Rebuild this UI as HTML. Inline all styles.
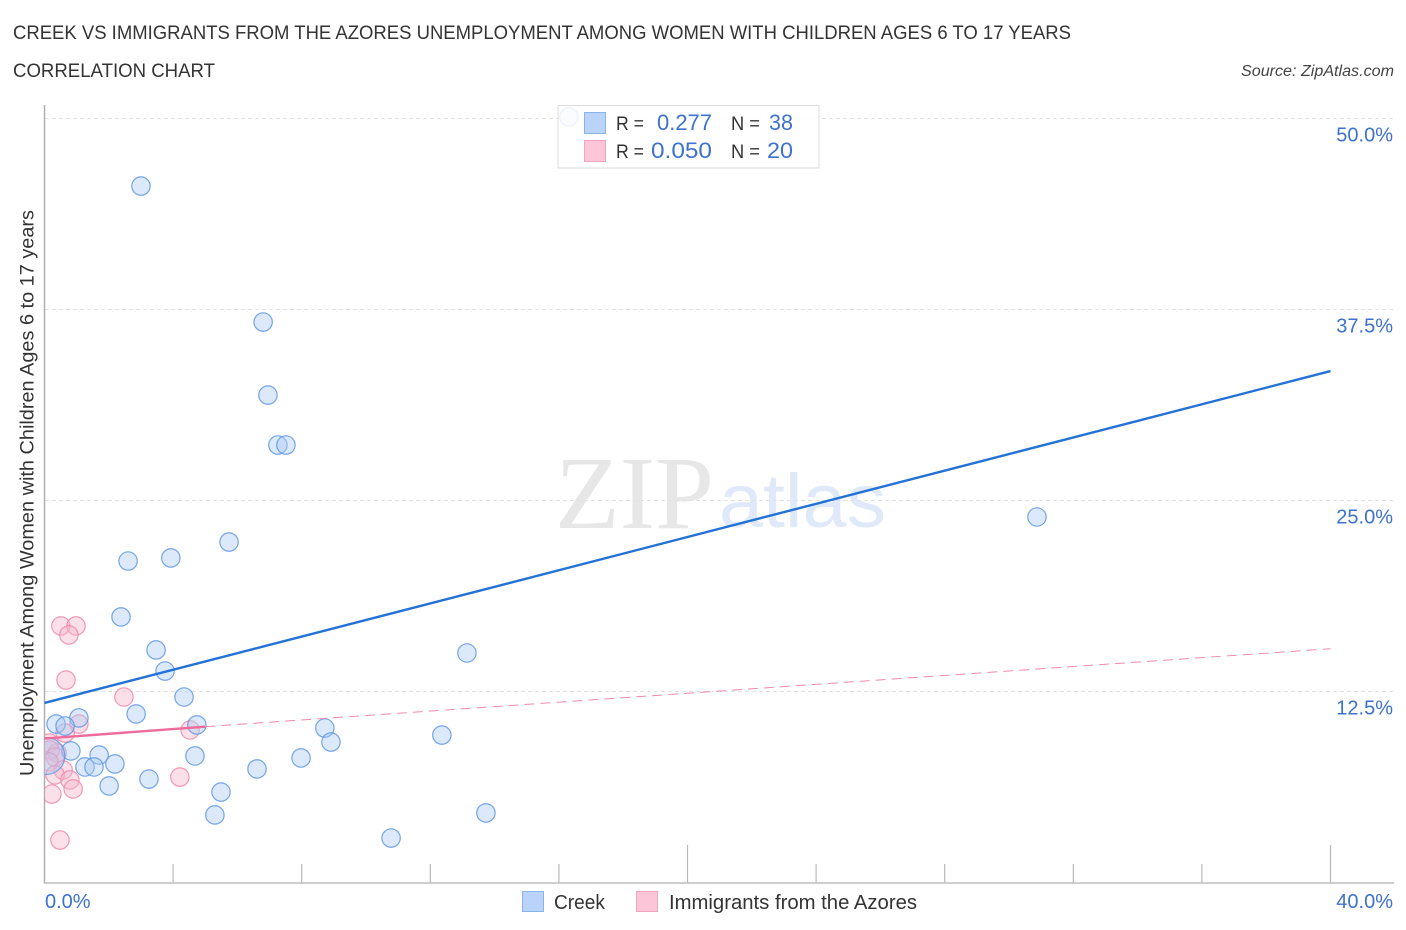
<!DOCTYPE html>
<html lang="en">
<head>
<meta charset="utf-8">
<title>Creek vs Immigrants from the Azores Correlation Chart</title>
<style>
html,body{margin:0;padding:0;background:#fff;}
svg{display:block;font-family:"Liberation Sans",sans-serif;}
</style>
</head>
<body>
<svg id="chart" width="1406" height="930" viewBox="0 0 1406 930" xmlns="http://www.w3.org/2000/svg">
  <defs><clipPath id="plot-clip"><rect x="44.5" y="100" width="1350" height="783"/></clipPath></defs>
  <text x="13" y="39" font-size="19" fill="#333" textLength="1058" lengthAdjust="spacingAndGlyphs">CREEK VS IMMIGRANTS FROM THE AZORES UNEMPLOYMENT AMONG WOMEN WITH CHILDREN AGES 6 TO 17 YEARS</text>
  <text x="13" y="77" font-size="19" fill="#333" textLength="202" lengthAdjust="spacingAndGlyphs">CORRELATION CHART</text>
  <text x="1241" y="76" font-size="15.5" font-style="italic" fill="#444" textLength="153" lengthAdjust="spacingAndGlyphs">Source: ZipAtlas.com</text>

  <g>
    <text x="555" y="528" font-family="'Liberation Serif',serif" font-size="104" fill="#e7e7e7" textLength="159" lengthAdjust="spacingAndGlyphs">ZIP</text>
    <text x="719" y="527" font-family="'Liberation Sans',sans-serif" font-size="76" fill="#dfe9f9" textLength="167" lengthAdjust="spacingAndGlyphs">atlas</text>
  </g>

  <g id="grid"></g>
  <g id="axes"></g>
  <g id="points" clip-path="url(#plot-clip)"></g>
  <g id="trends"></g>

  <text transform="translate(33.5,776) rotate(-90)" font-size="19" fill="#333" textLength="566" lengthAdjust="spacingAndGlyphs">Unemployment Among Women with Children Ages 6 to 17 years</text>

  <g font-size="21">
    <rect x="558" y="105.500" width="261" height="62.500" fill="#fff" fill-opacity="0.86" stroke="#dcdcdc" stroke-width="1"/>
    <rect x="584.500" y="112.500" width="21" height="21" fill="#b9d4f8" stroke="#8db4ea"/>
    <rect x="584.500" y="140.500" width="21" height="21" fill="#fcc6d8" stroke="#f2a3bd"/>
    <text x="616" y="130" fill="#333" font-size="19.500" textLength="28" lengthAdjust="spacingAndGlyphs">R =</text>
    <text x="657" y="130" fill="#3d72cf" font-size="22" textLength="55" lengthAdjust="spacingAndGlyphs">0.277</text>
    <text x="731" y="130" fill="#333" font-size="19.500" textLength="29" lengthAdjust="spacingAndGlyphs">N =</text>
    <text x="769" y="130" fill="#3d72cf" font-size="22" textLength="24" lengthAdjust="spacingAndGlyphs">38</text>
    <text x="616" y="158" fill="#333" font-size="19.500" textLength="28" lengthAdjust="spacingAndGlyphs">R =</text>
    <text x="651" y="158" fill="#3d72cf" font-size="22" textLength="61" lengthAdjust="spacingAndGlyphs">0.050</text>
    <text x="731" y="158" fill="#333" font-size="19.500" textLength="29" lengthAdjust="spacingAndGlyphs">N =</text>
    <text x="767" y="158" fill="#3d72cf" font-size="22" textLength="26" lengthAdjust="spacingAndGlyphs">20</text>
  </g>

  <g>
    <g>
      <rect x="522.500" y="891.500" width="21" height="20" fill="#b9d4f8" stroke="#8db4ea"/>
      <text x="554" y="909" font-size="20" fill="#333" textLength="51" lengthAdjust="spacingAndGlyphs">Creek</text>
    </g>
    <g>
      <rect x="636.500" y="891.500" width="21" height="20" fill="#fcc6d8" stroke="#f2a3bd"/>
      <text x="669" y="909" font-size="20" fill="#333" textLength="248" lengthAdjust="spacingAndGlyphs">Immigrants from the Azores</text>
    </g>
  </g>
</svg>
<script>
const creekX = [3.00,6.80,6.95,7.26,7.51,30.87,5.74,2.60,3.93,2.38,3.47,13.14,3.75,4.34,2.85,1.07,0.36,0.64,4.74,8.72,8.91,12.36,0.82,1.70,4.68,7.98,2.19,1.26,1.54,6.61,3.25,2.01,5.49,5.30,13.73,10.78,16.31,0.06];
const creekY = [45.58,36.68,31.90,28.63,28.63,23.92,22.28,21.04,21.24,17.38,15.22,15.02,13.84,12.14,11.03,10.77,10.37,10.24,10.31,10.11,9.19,9.65,8.61,8.34,8.28,8.15,7.76,7.56,7.56,7.43,6.77,6.32,5.92,4.42,4.55,2.91,50.10,8.28];
const creekWeight = [1,1,1,1,1,1,1,1,1,1,1,1,1,1,1,1,1,1,1,1,1,1,1,1,1,1,1,1,1,1,1,1,1,1,1,1,1,2];
const azoresX = [0.51,0.98,0.76,0.67,2.47,1.07,0.64,4.53,0.14,0.39,0.17,0.33,0.14,0.58,0.33,0.79,4.21,0.89,0.23,0.48];
const azoresY = [16.79,16.79,16.20,13.25,12.14,10.37,9.78,9.98,9.13,8.48,8.67,8.21,7.89,7.36,7.04,6.71,6.90,6.12,5.79,2.78];
const creekTrendX = [0,40];
const creekTrendY = [11.75,33.47];
const azoresTrendSolidX = [0,5];
const azoresTrendSolidY = [9.42,10.20];
const azoresTrendDashX = [5,40];
const azoresTrendDashY = [10.20,15.30];
const yTicks = [12.5,25,37.5,50];
const yTickLabels = ['12.5%','25.0%','37.5%','50.0%'];
const xTicks = [4,8,12,16,20,24,28,32,36,40];
const xMajorTicks = [20,40];
const xEndValues = [0,40];
const xEndLabels = ['0.0%','40.0%'];

const NS = 'http://www.w3.org/2000/svg';
const xScale = v => 44.5 + v * 32.15;
const yScale = v => 882.5 - v * 15.28;
function make(tag, attrs, parent) {
  const el = document.createElementNS(NS, tag);
  for (const k in attrs) el.setAttribute(k, attrs[k]);
  parent.appendChild(el);
  return el;
}
const grid = document.getElementById('grid');
const axes = document.getElementById('axes');
const points = document.getElementById('points');
const trends = document.getElementById('trends');

yTicks.forEach((t, i) => {
  const line = make('line', {x1: 45, x2: 1393, y1: yScale(t), y2: yScale(t), stroke: '#e2e2e2', 'stroke-width': 1, 'stroke-dasharray': '4 3'}, grid);
  
  
  const label = make('text', {x: 1393, y: yScale(t) + 23, 'text-anchor': 'end', 'font-size': 20, fill: '#3d72cf'}, axes);
  label.textContent = yTickLabels[i];
  
  
});

const yAxis = make('line', {x1: 44.5, x2: 44.5, y1: 105, y2: 883.5, stroke: '#b0b0b0', 'stroke-width': 1.5}, axes);


const xAxis = make('line', {x1: 44, x2: 1394, y1: 883, y2: 883, stroke: '#bdbdbd', 'stroke-width': 1.5}, axes);



xTicks.forEach(t => {
  const top = xMajorTicks.includes(t) ? 845 : 864;
  const tick = make('line', {x1: xScale(t), x2: xScale(t), y1: top, y2: 883, stroke: '#b8b8b8', 'stroke-width': 1.2}, axes);
  
  
});

xEndValues.forEach((v, i) => {
  const label = make('text', {x: i === 0 ? 45 : 1393, y: 908, 'text-anchor': i === 0 ? 'start' : 'end', 'font-size': 20, fill: '#3d72cf'}, axes);
  label.textContent = xEndLabels[i];
  
  
});

azoresX.forEach((v, i) => {
  const c = make('circle', {cx: xScale(v), cy: yScale(azoresY[i]), r: 9.2, fill: '#f9b6cb', 'fill-opacity': 0.42, stroke: '#ee88ab', 'stroke-opacity': 0.85, 'stroke-width': 1.2}, points);
  
  
});
creekX.forEach((v, i) => {
  const c = make('circle', {cx: xScale(v), cy: yScale(creekY[i]), r: 9.2 * creekWeight[i], fill: '#a9caf4', 'fill-opacity': 0.42, stroke: '#5f97e4', 'stroke-opacity': 0.85, 'stroke-width': 1.2}, points);
  
  
});

const creekLine = make('line', {x1: xScale(creekTrendX[0]), y1: yScale(creekTrendY[0]), x2: xScale(creekTrendX[1]), y2: yScale(creekTrendY[1]), stroke: '#2272d8', 'stroke-width': 2.4}, trends);


const azoresSolid = make('line', {x1: xScale(azoresTrendSolidX[0]), y1: yScale(azoresTrendSolidY[0]), x2: xScale(azoresTrendSolidX[1]), y2: yScale(azoresTrendSolidY[1]), stroke: '#ee6b9c', 'stroke-width': 2.4}, trends);


const azoresDash = make('line', {x1: xScale(azoresTrendDashX[0]), y1: yScale(azoresTrendDashY[0]), x2: xScale(azoresTrendDashX[1]), y2: yScale(azoresTrendDashY[1]), stroke: '#ee8aae', 'stroke-width': 1, 'stroke-dasharray': '10 6'}, trends);


</script>
</body>
</html>
